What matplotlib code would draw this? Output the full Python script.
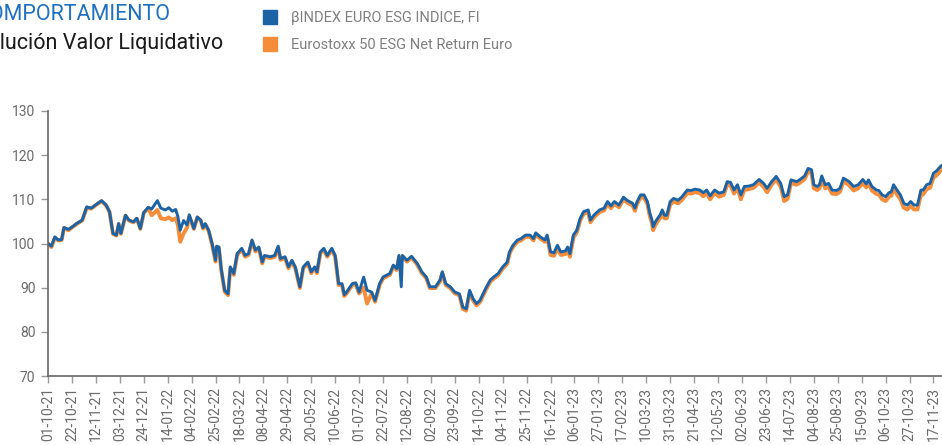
import matplotlib
matplotlib.use("Agg")
import matplotlib.pyplot as plt
import matplotlib.dates as mdates
from matplotlib.lines import Line2D
import pandas as pd

titulo = "COMPORTAMIENTO"
subtitulo = "Evolución Valor Liquidativo"
serie_fondo = "βINDEX EURO ESG INDICE, FI"
serie_indice = "Eurostoxx 50 ESG Net Return Euro"

fechas = [
    "2021-10-01", "2021-10-04", "2021-10-07", "2021-10-10", "2021-10-13", "2021-10-15",
    "2021-10-19", "2021-10-23", "2021-10-26", "2021-10-31", "2021-11-04", "2021-11-08",
    "2021-11-11", "2021-11-17", "2021-11-21", "2021-11-24", "2021-11-27", "2021-11-30",
    "2021-12-02", "2021-12-04", "2021-12-08", "2021-12-11", "2021-12-15", "2021-12-18",
    "2021-12-21", "2021-12-24", "2021-12-28", "2021-12-31", "2022-01-05", "2022-01-08",
    "2022-01-12", "2022-01-15", "2022-01-18", "2022-01-21", "2022-01-23", "2022-01-25",
    "2022-01-28", "2022-01-31", "2022-02-02", "2022-02-06", "2022-02-09", "2022-02-12",
    "2022-02-14", "2022-02-16", "2022-02-19", "2022-02-22", "2022-02-25", "2022-02-26",
    "2022-02-28", "2022-03-02", "2022-03-05", "2022-03-08", "2022-03-10", "2022-03-13",
    "2022-03-16", "2022-03-20", "2022-03-23", "2022-03-26", "2022-03-29", "2022-04-01",
    "2022-04-04", "2022-04-07", "2022-04-09", "2022-04-14", "2022-04-18", "2022-04-21",
    "2022-04-23", "2022-04-27", "2022-04-30", "2022-05-03", "2022-05-06", "2022-05-10",
    "2022-05-13", "2022-05-17", "2022-05-20", "2022-05-23", "2022-05-25", "2022-05-28",
    "2022-05-31", "2022-06-03", "2022-06-07", "2022-06-10", "2022-06-13", "2022-06-16",
    "2022-06-18", "2022-06-20", "2022-06-25", "2022-06-28", "2022-07-01", "2022-07-05",
    "2022-07-08", "2022-07-12", "2022-07-15", "2022-07-19", "2022-07-22", "2022-07-28",
    "2022-07-31", "2022-08-03", "2022-08-05", "2022-08-07", "2022-08-08", "2022-08-12",
    "2022-08-16", "2022-08-21", "2022-08-25", "2022-08-29", "2022-09-01", "2022-09-06",
    "2022-09-10", "2022-09-12", "2022-09-15", "2022-09-19", "2022-09-23", "2022-09-27",
    "2022-09-30", "2022-10-03", "2022-10-06", "2022-10-09", "2022-10-12", "2022-10-15",
    "2022-10-20", "2022-10-24", "2022-10-27", "2022-10-31", "2022-11-04", "2022-11-08",
    "2022-11-10", "2022-11-13", "2022-11-17", "2022-11-20", "2022-11-24", "2022-11-28",
    "2022-12-01", "2022-12-03", "2022-12-07", "2022-12-11", "2022-12-13", "2022-12-16",
    "2022-12-19", "2022-12-22", "2022-12-25", "2022-12-29", "2022-12-31", "2023-01-02",
    "2023-01-05", "2023-01-08", "2023-01-11", "2023-01-14", "2023-01-18", "2023-01-20",
    "2023-01-23", "2023-01-28", "2023-02-01", "2023-02-04", "2023-02-07", "2023-02-10",
    "2023-02-14", "2023-02-18", "2023-02-21", "2023-02-26", "2023-02-28", "2023-03-02",
    "2023-03-05", "2023-03-08", "2023-03-11", "2023-03-13", "2023-03-15", "2023-03-16",
    "2023-03-18", "2023-03-20", "2023-03-22", "2023-03-24", "2023-03-26", "2023-03-28",
    "2023-03-31", "2023-04-03", "2023-04-07", "2023-04-10", "2023-04-15", "2023-04-18",
    "2023-04-22", "2023-04-26", "2023-04-29", "2023-05-02", "2023-05-05", "2023-05-09",
    "2023-05-13", "2023-05-17", "2023-05-20", "2023-05-23", "2023-05-26", "2023-05-29",
    "2023-06-01", "2023-06-04", "2023-06-08", "2023-06-12", "2023-06-17", "2023-06-21",
    "2023-06-24", "2023-06-28", "2023-07-02", "2023-07-06", "2023-07-09", "2023-07-12",
    "2023-07-15", "2023-07-20", "2023-07-23", "2023-07-27", "2023-07-30", "2023-08-02",
    "2023-08-04", "2023-08-07", "2023-08-09", "2023-08-11", "2023-08-14", "2023-08-17",
    "2023-08-20", "2023-08-24", "2023-08-27", "2023-08-30", "2023-09-04", "2023-09-08",
    "2023-09-12", "2023-09-16", "2023-09-19", "2023-09-21", "2023-09-24", "2023-09-28",
    "2023-09-30", "2023-10-03", "2023-10-06", "2023-10-09", "2023-10-11", "2023-10-13",
    "2023-10-16", "2023-10-19", "2023-10-22", "2023-10-25", "2023-10-28", "2023-10-31",
    "2023-11-03", "2023-11-06", "2023-11-08", "2023-11-11", "2023-11-14", "2023-11-17",
    "2023-11-20", "2023-11-23", "2023-11-25",
]

valor_fondo = [
    100.0, 99.4, 101.5, 100.8, 100.9, 103.6, 103.2, 103.9, 104.5, 105.3, 108.3, 108.0,
    108.6, 109.7, 108.7, 107.2, 102.3, 101.9, 104.5, 102.3, 106.4, 105.3, 104.9, 105.7,
    103.4, 107.0, 108.2, 107.8, 109.7, 108.0, 107.6, 108.1, 107.3, 107.7, 106.1, 103.0,
    105.2, 104.2, 106.5, 103.4, 106.0, 105.3, 103.6, 104.5, 103.0, 100.0, 96.2, 99.4,
    99.2, 94.3, 89.4, 88.6, 94.7, 93.2, 97.7, 98.9, 97.3, 97.7, 100.8, 98.5,
    99.2, 95.8, 97.3, 97.0, 97.3, 99.4, 96.6, 97.0, 94.7, 96.2, 94.7, 90.2,
    94.7, 95.8, 93.6, 94.7, 93.6, 98.1, 98.9, 97.3, 98.9, 97.3, 90.9, 90.9,
    88.4, 89.0, 90.9, 91.1, 89.0, 92.4, 89.4, 89.0, 87.1, 90.9, 92.4, 93.2,
    95.1, 94.3, 97.3, 90.2, 97.3, 96.2, 97.1, 95.5, 93.6, 92.4, 90.2, 90.2,
    91.7, 93.6, 90.9, 90.2, 89.0, 88.6, 85.6, 85.2, 89.4, 87.5, 86.4, 87.1,
    89.8, 91.7, 92.4, 93.2, 94.7, 95.8, 98.1, 99.6, 100.8, 101.1, 101.9, 101.9,
    101.1, 102.4, 101.5, 100.8, 101.9, 98.1, 97.9, 99.6, 98.1, 98.3, 99.2, 97.7,
    101.9, 103.0, 105.7, 107.2, 107.6, 105.3, 106.4, 107.6, 108.0, 109.5, 108.5, 109.5,
    108.7, 110.5, 109.8, 109.1, 108.0, 109.5, 111.0, 111.0, 109.5, 107.0, 105.3, 103.8,
    104.9, 105.7, 106.4, 107.6, 106.4, 106.4, 109.5, 110.2, 109.8, 110.5, 112.1, 112.0,
    112.3, 112.1, 111.5, 112.1, 110.8, 112.1, 111.4, 111.7, 114.0, 113.8, 112.1, 113.3,
    111.0, 112.9, 113.0, 113.3, 114.5, 113.6, 112.5, 114.0, 115.2, 113.6, 110.6, 111.0,
    114.4, 114.0, 114.5, 115.3, 117.0, 116.7, 113.3, 112.9, 113.3, 115.3, 113.3, 113.6,
    112.1, 112.0, 112.5, 114.8, 114.0, 112.9, 113.3, 114.5, 113.5, 114.4, 112.9, 112.1,
    112.0, 111.0, 110.6, 111.5, 111.7, 113.3, 112.1, 111.0, 109.1, 108.7, 109.5, 108.7,
    108.7, 112.1, 112.1, 113.3, 113.6, 115.9, 116.5, 117.4, 117.8,
]

valor_indice = [
    100.0, 99.2, 101.3, 100.7, 100.8, 103.5, 103.0, 103.8, 104.4, 105.2, 108.1, 107.9,
    108.5, 109.6, 108.6, 107.1, 102.2, 101.8, 104.4, 102.2, 106.3, 105.2, 104.8, 105.6,
    103.3, 106.9, 108.0, 106.4, 107.6, 105.7, 105.5, 105.9, 105.3, 105.7, 104.2, 100.4,
    102.3, 103.6, 106.1, 103.3, 105.9, 105.2, 103.4, 104.3, 102.8, 99.7, 95.9, 99.1,
    98.9, 94.0, 89.1, 88.3, 94.4, 92.9, 97.4, 98.6, 97.0, 97.4, 100.5, 98.2,
    98.9, 95.5, 97.0, 96.7, 97.0, 99.1, 96.3, 96.7, 94.4, 95.9, 94.4, 89.9,
    94.4, 95.5, 93.3, 94.4, 93.3, 97.8, 98.6, 97.0, 98.6, 97.0, 90.6, 90.6,
    88.1, 88.7, 90.6, 90.8, 88.7, 90.0, 86.4, 88.7, 86.8, 90.6, 92.1, 92.9,
    94.8, 94.0, 97.0, 96.0, 97.0, 95.9, 96.8, 95.2, 93.3, 92.1, 89.9, 89.9,
    91.4, 93.3, 90.6, 89.9, 88.7, 88.3, 85.2, 84.8, 89.0, 87.1, 86.0, 86.7,
    89.4, 91.3, 92.0, 92.8, 94.3, 95.4, 97.7, 99.2, 100.4, 100.7, 101.5, 101.5,
    100.7, 102.0, 101.1, 100.4, 101.5, 97.4, 97.2, 98.9, 97.4, 97.6, 98.5, 97.0,
    101.3, 102.5, 105.2, 106.7, 107.1, 104.8, 105.9, 107.1, 107.5, 109.0, 108.0, 109.0,
    108.2, 110.0, 109.3, 108.6, 107.4, 109.0, 110.4, 110.4, 108.9, 106.3, 104.6, 103.0,
    104.2, 105.0, 105.7, 106.9, 105.7, 105.7, 108.8, 109.5, 109.1, 109.8, 111.4, 111.3,
    111.6, 111.4, 110.7, 111.4, 110.0, 111.4, 110.6, 111.0, 113.3, 113.1, 111.3, 112.6,
    110.0, 112.1, 112.3, 112.6, 113.8, 112.8, 111.6, 113.3, 114.5, 112.8, 109.6, 110.1,
    113.7, 113.3, 113.8, 114.6, 116.3, 115.9, 112.5, 112.1, 112.5, 114.6, 112.5, 112.8,
    111.3, 111.2, 111.7, 114.1, 113.2, 112.0, 112.5, 113.7, 112.7, 113.6, 112.0, 111.2,
    111.1, 110.0, 109.6, 110.6, 110.8, 112.4, 111.1, 110.0, 108.1, 107.7, 108.5, 107.7,
    107.7, 111.0, 111.1, 112.3, 112.6, 114.9, 115.5, 116.4, 116.9,
]

fechas_ticks = pd.date_range("2021-10-01", "2023-11-17", freq="21D")

AZUL = "#1c63a6"
NARANJA = "#f68d3b"
GRIS = "#6b6b6b"

plt.rcParams["font.family"] = ["Roboto", "DejaVu Sans"]

fig = plt.figure(figsize=(9.42, 4.45), dpi=100)
ax = fig.add_axes([48 / 942, 1 - 376 / 445, 1 - 48 / 942, 265 / 445])

x = pd.to_datetime(fechas)
ax.plot(x, valor_indice, color=NARANJA, lw=2.8, solid_joinstyle="round")
ax.plot(x, valor_fondo, color=AZUL, lw=2.1, solid_joinstyle="round")

ax.set_ylim(70, 130)
ax.set_yticks(range(70, 131, 10))
ax.set_xlim(pd.Timestamp("2021-10-01"), pd.Timestamp("2023-11-24 12:00"))
ax.set_xticks(fechas_ticks)
ax.xaxis.set_major_formatter(mdates.DateFormatter("%d-%m-%y"))

for s in ["top", "right"]:
    ax.spines[s].set_visible(False)
for s in ["left", "bottom"]:
    ax.spines[s].set_color("#666666")
    ax.spines[s].set_linewidth(1.2)

ax.tick_params(axis="both", colors="#9a9a9a", labelcolor=GRIS, length=5, width=1,
               labelsize=10)
ax.tick_params(axis="x", labelrotation=90, pad=3)
ax.tick_params(axis="y", pad=4)

# titulos recortados por la izquierda, como en el original
fig.text(171 / 942, 1 - 15 / 445, titulo, ha="right", va="center",
         color="#1f70c1", fontsize=15.5)
fig.text(223 / 942, 1 - 43 / 445, subtitulo, ha="right", va="center",
         color="#1a1a1a", fontsize=15.5)

handles = [
    Line2D([], [], ls="none", marker="s", ms=10, color=AZUL),
    Line2D([], [], ls="none", marker="s", ms=10, color=NARANJA),
]
fig.legend(handles, [serie_fondo, serie_indice], loc="upper left",
           bbox_to_anchor=(252 / 942, 1 - 1 / 445), frameon=False,
           fontsize=10.5, labelcolor="#808080", handlelength=1.0,
           handletextpad=0.95, labelspacing=0.85, borderpad=0.2)

fig.savefig("out.png", dpi=100)
